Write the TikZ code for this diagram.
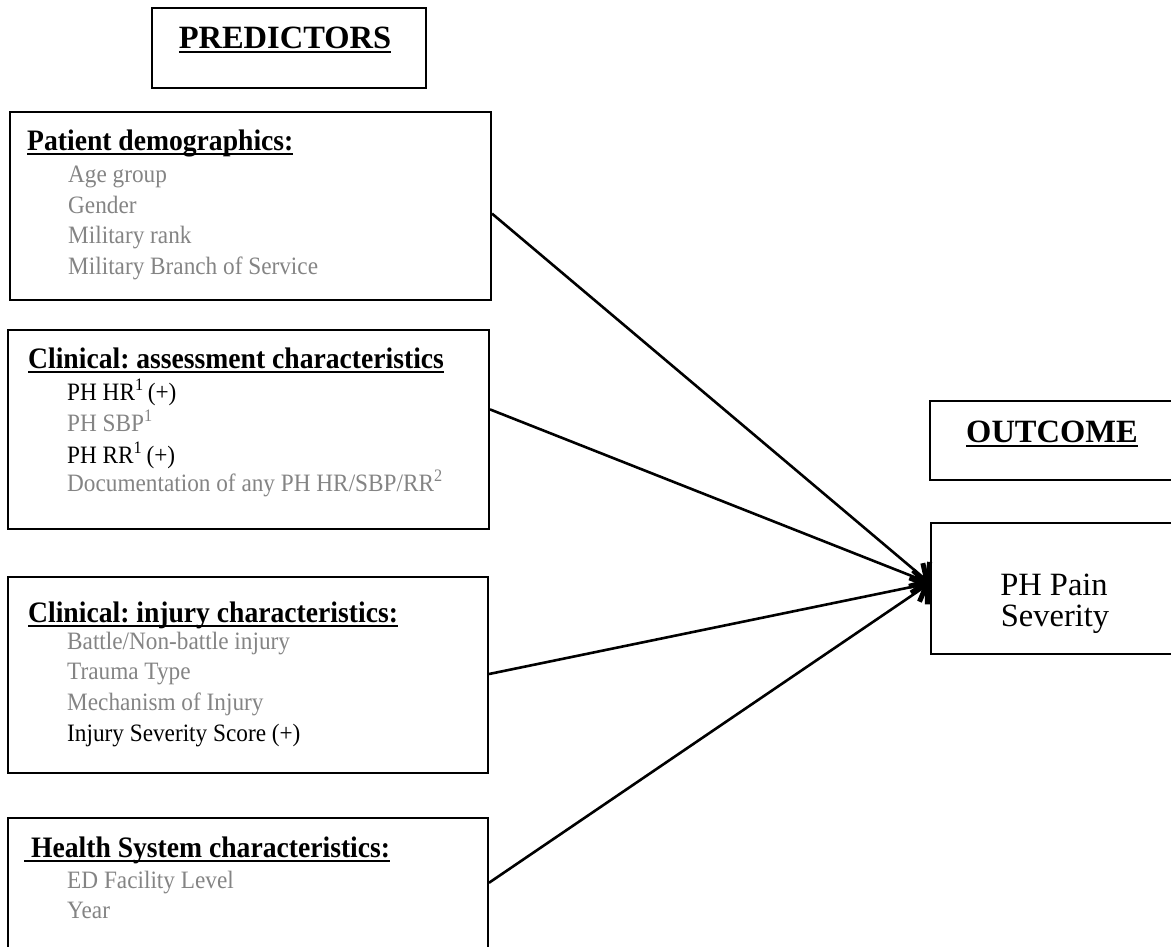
\documentclass[tikz,border=0pt]{standalone}
\usepackage{fontspec}
\setmainfont{Liberation Serif}
\newfontfamily\narrowserif[FakeStretch=0.93]{Liberation Serif}
\usetikzlibrary{arrows.meta,calc}

\definecolor{itemgray}{RGB}{132,132,132}

% underline drawn a fixed distance under the baseline, crossing descenders
\newcommand\hdul[1]{\setbox0\hbox{#1}\rlap{\rule[-5pt]{\wd0}{1.6pt}}\box0}

\begin{document}
\frenchspacing
\begin{tikzpicture}[x=1pt,y=-1pt,
  frame/.style={draw, line width=2pt, inner sep=0pt, anchor=north west, rectangle},
  title/.style={font=\fontsize{32.5}{38}\selectfont\bfseries, anchor=base, inner sep=0pt},
  heading/.style={font=\narrowserif\fontsize{29.7}{34}\selectfont\bfseries, anchor=base west, inner sep=0pt},
  item/.style={font=\narrowserif\fontsize{25}{30}\selectfont, anchor=base west, inner sep=0pt, text=itemgray},
  keyitem/.style={item, text=black},
  outtext/.style={font=\fontsize{32.5}{36}\selectfont, anchor=base, inner sep=0pt},
  link/.style={line width=2.6pt, -{Straight Barb[length=11pt,width=32pt,line width=5pt]}}
]
\useasboundingbox (0,0) rectangle (1171,946);
\clip (0,0) rectangle (1171,946);

% frames
\node[frame, minimum width=274pt, minimum height=80pt]  (pred)   at (151,7)   {};
\node[frame, minimum width=481pt, minimum height=188pt] (pat)    at (9,111)   {};
\node[frame, minimum width=481pt, minimum height=199pt] (assess) at (7,329)   {};
\node[frame, minimum width=480pt, minimum height=196pt] (injury) at (7,576)   {};
\node[frame, minimum width=480pt, minimum height=160pt] (health) at (7,817)   {};
\node[frame, minimum width=260pt, minimum height=79pt]  (outc)   at (929,400) {};
\node[frame, minimum width=260pt, minimum height=131pt] (pain)   at (930,522) {};

% titles
\node[title] (predT) at (285,48)   {\hdul{PREDICTORS}};
\node[title] (outcT) at (1052,442) {\hdul{OUTCOME}};

% patient demographics
\node[heading] (patH) at (27,150) {\hdul{Patient demographics:}};
\node[item] (pat1) at (68,182) {Age group};
\node[item] (pat2) at (68,213) {Gender};
\node[item] (pat3) at (68,243) {Military rank};
\node[item] (pat4) at (68,274) {Military Branch of Service};

% assessment characteristics
\node[heading] (assH) at (28,368) {\hdul{Clinical: assessment characteristics}};
\node[keyitem] (ass1) at (67,400) {PH HR\textsuperscript{1}\,(+)};
\node[item]    (ass2) at (67,431) {PH SBP\textsuperscript{1}};
\node[keyitem] (ass3) at (67,463) {PH RR\textsuperscript{1}\,(+)};
\node[item]    (ass4) at (67,491) {Documentation of any PH HR/SBP/RR\textsuperscript{2}};

% injury characteristics
\node[heading] (injH) at (28,622) {\hdul{Clinical: injury characteristics:}};
\node[item]    (inj1) at (67,649) {Battle/Non-battle injury};
\node[item]    (inj2) at (67,679) {Trauma Type};
\node[item]    (inj3) at (67,710) {Mechanism of Injury};
\node[keyitem] (inj4) at (67,741) {Injury Severity Score (+)};

% health system characteristics
\node[heading] (heaH) at (24,857) {\hdul{\ Health System characteristics:}};
\node[item] (hea1) at (67,888) {ED Facility Level};
\node[item] (hea2) at (67,918) {Year};

% outcome
\node[outtext] (pain1) at (1054,595) {PH Pain};
\node[outtext] (pain2) at (1055,626) {Severity};

% connectors
\coordinate (tip) at ($(pain.north west)!0.46!(pain.south west)$);
\draw[link] ($(pat.north east)!0.54!(pat.south east)$) -- (tip);
\draw[link] ($(assess.north east)!0.40!(assess.south east)$) -- (tip);
\draw[link] ($(injury.north east)!0.495!(injury.south east)$) -- (tip);
\draw[link] ($(health.north east)!0.406!(health.south east)$) -- (tip);
\end{tikzpicture}
\end{document}
